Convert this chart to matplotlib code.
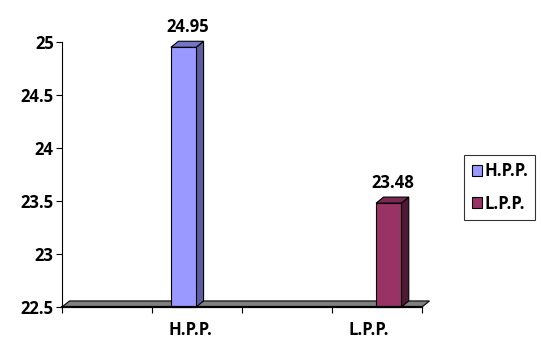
import matplotlib.pyplot as plt
from matplotlib.patches import Polygon, Rectangle

# data
series = ["H.P.P.", "L.P.P."]
values = [24.95, 23.48]
bar_pos = [1.35, 3.63]
label_pos = [1.43, 3.41]
front_colors = ["#9999FF", "#993366"]
side_colors = ["#5C5CA0", "#4C1A33"]
top_colors = ["#7373C8", "#7A2952"]

y_min, y_max = 22.5, 25
y_ticks = [22.5, 23, 23.5, 24, 24.5, 25]

plt.rcParams['font.family'] = ['Open Sans', 'DejaVu Sans']
FS = 12

fig = plt.figure(figsize=(5.42, 3.40), dpi=100)
ax = fig.add_axes([62 / 542, 33 / 340, 360 / 542, 265 / 340])
ax.set_xlim(0, 4)
ax.set_ylim(y_min, y_max)

# depth of the 3D effect, in data units
dx, dy = 0.083, 0.057
width = 0.28

# floor
floor = Polygon([(0, y_min), (4, y_min), (4 + dx, y_min + dy), (0 + dx, y_min + dy)],
                closed=True, facecolor="#808080", edgecolor="black", linewidth=0.8,
                clip_on=False, zorder=2)
ax.add_patch(floor)

for i, name in enumerate(series):
    x0 = bar_pos[i] - width / 2
    x1 = bar_pos[i] + width / 2
    v = values[i]
    front = Rectangle((x0, y_min), width, v - y_min, facecolor=front_colors[i],
                      edgecolor="black", linewidth=0.8, clip_on=False, zorder=4, label=name)
    side = Polygon([(x1, y_min), (x1 + dx, y_min + dy), (x1 + dx, v + dy), (x1, v)],
                   closed=True, facecolor=side_colors[i], edgecolor="black",
                   linewidth=0.8, clip_on=False, zorder=3)
    top = Polygon([(x0, v), (x1, v), (x1 + dx, v + dy), (x0 + dx, v + dy)],
                  closed=True, facecolor=top_colors[i], edgecolor="black",
                  linewidth=0.8, clip_on=False, zorder=3)
    ax.add_patch(side)
    ax.add_patch(top)
    ax.add_patch(front)
    ax.annotate(f"{v:.2f}", xy=(bar_pos[i] + dx / 2, v + dy), xytext=(0, 10),
                textcoords="offset points", ha="center", va="center",
                fontsize=FS, fontweight="bold", annotation_clip=False)

for s in ["top", "right"]:
    ax.spines[s].set_visible(False)
ax.spines["left"].set_color("black")
ax.spines["left"].set_linewidth(0.8)
ax.spines["bottom"].set_color("black")
ax.spines["bottom"].set_linewidth(1.6)
ax.spines["bottom"].set_zorder(5)

ax.set_yticks(y_ticks)
ax.set_yticklabels([f"{t:g}" for t in y_ticks], fontsize=FS, fontweight="bold")
ax.tick_params(axis="y", direction="out", length=4, width=0.8, pad=2)

ax.set_xticks([0, 1, 2, 3, 4])
ax.set_xticklabels([])
ax.set_xticks(label_pos, minor=True)
ax.set_xticklabels(series, minor=True, fontsize=FS, fontweight="bold")
ax.tick_params(axis="x", which="major", direction="out", length=4, width=0.8)
ax.tick_params(axis="x", which="minor", length=0, pad=10)

leg = ax.legend(loc="upper left", bbox_to_anchor=(464 / 542, 1 - 155 / 340),
                bbox_transform=fig.transFigure, frameon=True, fancybox=False,
                prop={"size": FS, "weight": "bold"}, handlelength=0.6,
                handleheight=0.6, handletextpad=0.15, borderpad=0.45,
                labelspacing=0.85, borderaxespad=0)
leg.get_frame().set_edgecolor("black")
leg.get_frame().set_linewidth(0.8)

fig.savefig("out.png", dpi=100)
